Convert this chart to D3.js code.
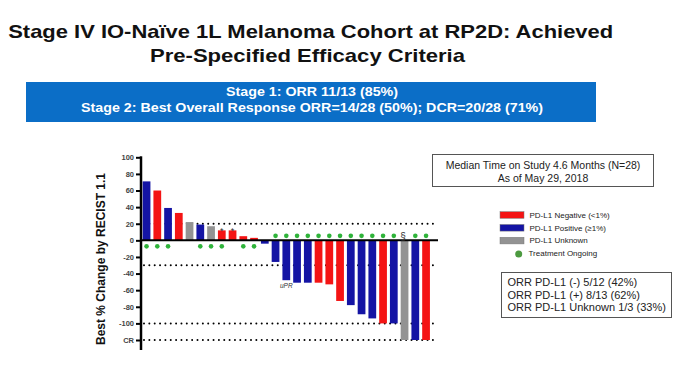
<!DOCTYPE html>
<html><head><meta charset="utf-8">
<script src="https://cdn.jsdelivr.net/npm/d3@7"></script>
<style>
html,body{margin:0;padding:0;background:#fff;}
svg{display:block;font-family:"Liberation Sans",Arial,sans-serif;}
</style></head>
<body><svg id="c" width="680" height="369"></svg>
<script>
// ---- data ----
const patients = d3.range(1, 28);
const changes = [71, 60, 39, 33, 22, 19, 17, 12, 12, 5, 3, -4, -26, -48, -51, -51, -51, -53, -73, -78, -89, -94, -100, -100, -120, -120, -120];
const pdl1 = ["pos","neg","pos","neg","unk","pos","unk","neg","neg","neg","neg","pos","pos","pos","pos","pos","neg","neg","neg","pos","pos","pos","neg","pos","unk","pos","neg"];
const ongoing = [1,1,1,0,0,1,1,1,0,1,1,0,1,1,1,1,1,1,1,1,1,1,1,1,0,1,1];
const marks = ["","","","","","","","*","*","","","","","","","","","","","","","","","","§","",""];
const notes = ["","","","","","","","","","","","","","uPR","","","","","","","","","","","","",""];
const yTickValues = [100, 80, 60, 40, 20, 0, -20, -40, -60, -80, -100, -120];
const yTickLabels = ["100","80","60","40","20","0","-20","-40","-60","-80","-100","CR"];
const refLines = [20, -30, -100, -120];
const legendLabels = ["PD-L1 Negative (<1%)", "PD-L1 Positive (\u22651%)", "PD-L1 Unknown", "Treatment Ongoing"];
const legendKeys = ["neg","pos","unk"];
const orrLines = ["ORR PD-L1 (-) 5/12 (42%)", "ORR PD-L1 (+) 8/13 (62%)", "ORR PD-L1 Unknown 1/3 (33%)"];
const titleLines = ["Stage IV IO-Na\u00efve 1L Melanoma Cohort at RP2D: Achieved", "Pre-Specified Efficacy Criteria"];
const bannerLines = ["Stage 1: ORR 11/13 (85%)", "Stage 2: Best Overall Response ORR=14/28 (50%); DCR=20/28 (71%)"];
const medianLines = ["Median Time on Study 4.6 Months (N=28)", "As of May 29, 2018"];

const color = d3.scaleOrdinal().domain(["neg","pos","unk"]).range(["#f41414","#1414a4","#939393"]);
const svg = d3.select("#c");

// title (reference type is horizontally wide: fit to measured widths)
const titleW = [605, 315], titleCx = [310.7, 307.5];
svg.selectAll("text.title").data(titleLines).join("text")
  .attr("x", (d,i)=>titleCx[i]).attr("y", (d,i)=> i===0 ? 37.5 : 61.5)
  .attr("text-anchor","middle").attr("font-weight","bold").attr("font-size", 19)
  .attr("textLength",(d,i)=>titleW[i]).attr("lengthAdjust","spacingAndGlyphs")
  .attr("fill","#111").text(d=>d);

// banner
svg.append("rect").attr("x",26).attr("y",82).attr("width",570).attr("height",40).attr("fill","#0b6ec7");
const bannerW = [172, 462];
svg.selectAll("text.banner").data(bannerLines).join("text")
  .attr("x", 312).attr("y",(d,i)=> i===0 ? 96 : 112.3)
  .attr("text-anchor","middle").attr("font-weight","bold").attr("font-size",12)
  .attr("textLength",(d,i)=>bannerW[i]).attr("lengthAdjust","spacingAndGlyphs")
  .attr("fill","#fff").text(d=>d);

// scales
const x = d3.scaleBand().domain(patients).range([141.6, 431]).paddingInner(0.28).paddingOuter(0.1);
const y = d3.scaleLinear().domain([-120, 100]).range([340, 157.3]);
const xEnd = 438;
const x0 = 141;

// reference dotted lines
svg.selectAll("line.ref").data(refLines).join("line")
  .attr("x1", x0+3).attr("x2", xEnd).attr("y1", d=>y(d)).attr("y2", d=>y(d))
  .attr("stroke","#000").attr("stroke-width",2).attr("stroke-linecap","round")
  .attr("stroke-dasharray","0,5.35");

// bars
svg.selectAll("rect.bar").data(patients).join("rect")
  .attr("x", d=>x(d)).attr("width", x.bandwidth())
  .attr("y", (d,i)=> y(Math.max(0, changes[i])))
  .attr("height", (d,i)=> Math.abs(y(changes[i]) - y(0)))
  .attr("fill", (d,i)=> color(pdl1[i]));

// zero line
svg.append("line").attr("x1",x0).attr("x2",xEnd).attr("y1",y(0)).attr("y2",y(0))
  .attr("stroke","#000").attr("stroke-width",2);

// ongoing dots
svg.selectAll("circle.on").data(patients.filter((d,i)=>ongoing[i])).join("circle")
  .attr("cx", d=> x(d)+x.bandwidth()/2)
  .attr("cy", d=> changes[d-1] > 0 ? y(0)+6 : y(0)-4.5)
  .attr("r", 2.3).attr("fill","#2fb33a");

// marks
svg.selectAll("text.mark").data(patients.filter((d,i)=>marks[i])).join("text")
  .attr("x", d=> x(d)+x.bandwidth()/2 + (marks[d-1]==="§" ? -1.5 : 0))
  .attr("y", d=> marks[d-1]==="§" ? y(0)-0.5 : y(changes[d-1]) + 3.5)
  .attr("text-anchor","middle").attr("font-size", d=> marks[d-1]==="§" ? 10 : 9)
  .attr("fill","#333").text(d=>marks[d-1]);
svg.selectAll("text.note").data(patients.filter((d,i)=>notes[i])).join("text")
  .attr("x", d=> x(d)+x.bandwidth()/2).attr("y", d=> y(changes[d-1]) + 8)
  .attr("text-anchor","middle").attr("font-size",6.5).attr("font-style","italic")
  .attr("fill","#333").text(d=>notes[d-1]);

// y axis
const yAxis = d3.axisLeft(y).tickValues(yTickValues).tickFormat((d,i)=>yTickLabels[i]).tickSize(5).tickPadding(2);
const gy = svg.append("g").attr("transform",`translate(${x0},0)`).call(yAxis);
gy.select(".domain").remove();
gy.selectAll(".tick line").attr("stroke","#000").attr("stroke-width",2);
gy.selectAll(".tick text").attr("font-size",7.5).attr("font-weight","bold").attr("fill","#444")
  .attr("font-family","'Liberation Sans',Arial,sans-serif");
svg.append("line").attr("x1",x0).attr("x2",x0).attr("y1",y(100)-1).attr("y2",350)
  .attr("stroke","#000").attr("stroke-width",2.5);

// y title
svg.append("text").attr("transform","translate(105,259) rotate(-90)")
  .attr("text-anchor","middle").attr("font-weight","bold").attr("font-size",12)
  .attr("fill","#111").text("Best % Change by RECIST 1.1");

// median box
svg.append("rect").attr("x",432.5).attr("y",154.5).attr("width",221).attr("height",32)
  .attr("fill","#fff").attr("stroke","#555").attr("stroke-width",1);
svg.selectAll("text.med").data(medianLines).join("text")
  .attr("x",543).attr("y",(d,i)=> i===0 ? 169 : 181.5).attr("text-anchor","middle")
  .attr("font-size",10.5).attr("fill","#222").text(d=>d);

// legend
const lg = svg.append("g");
legendKeys.forEach((k,i)=>{
  lg.append("rect").attr("x",500).attr("y",211.7 + i*12.8).attr("width",24).attr("height",6.6)
    .attr("fill", color(k)).attr("stroke", "#777").attr("stroke-width",0.5);
});
lg.append("circle").attr("cx",518.7).attr("cy",254).attr("r",3.5).attr("fill","#4c9a40");
lg.selectAll("text").data(legendLabels).join("text")
  .attr("x",(d,i)=> i<3 ? 529.5 : 528.5).attr("y",(d,i)=> 217.8 + i*12.8)
  .attr("font-size",8).attr("fill","#222").text(d=>d);

// ORR box
svg.append("rect").attr("x",501.5).attr("y",272.5).attr("width",170).attr("height",45)
  .attr("fill","#fff").attr("stroke","#555").attr("stroke-width",1);
svg.selectAll("text.orr").data(orrLines).join("text")
  .attr("x",507.5).attr("y",(d,i)=> 286 + i*12.6)
  .attr("font-size",11).attr("fill","#222").text(d=>d);
</script></body></html>
